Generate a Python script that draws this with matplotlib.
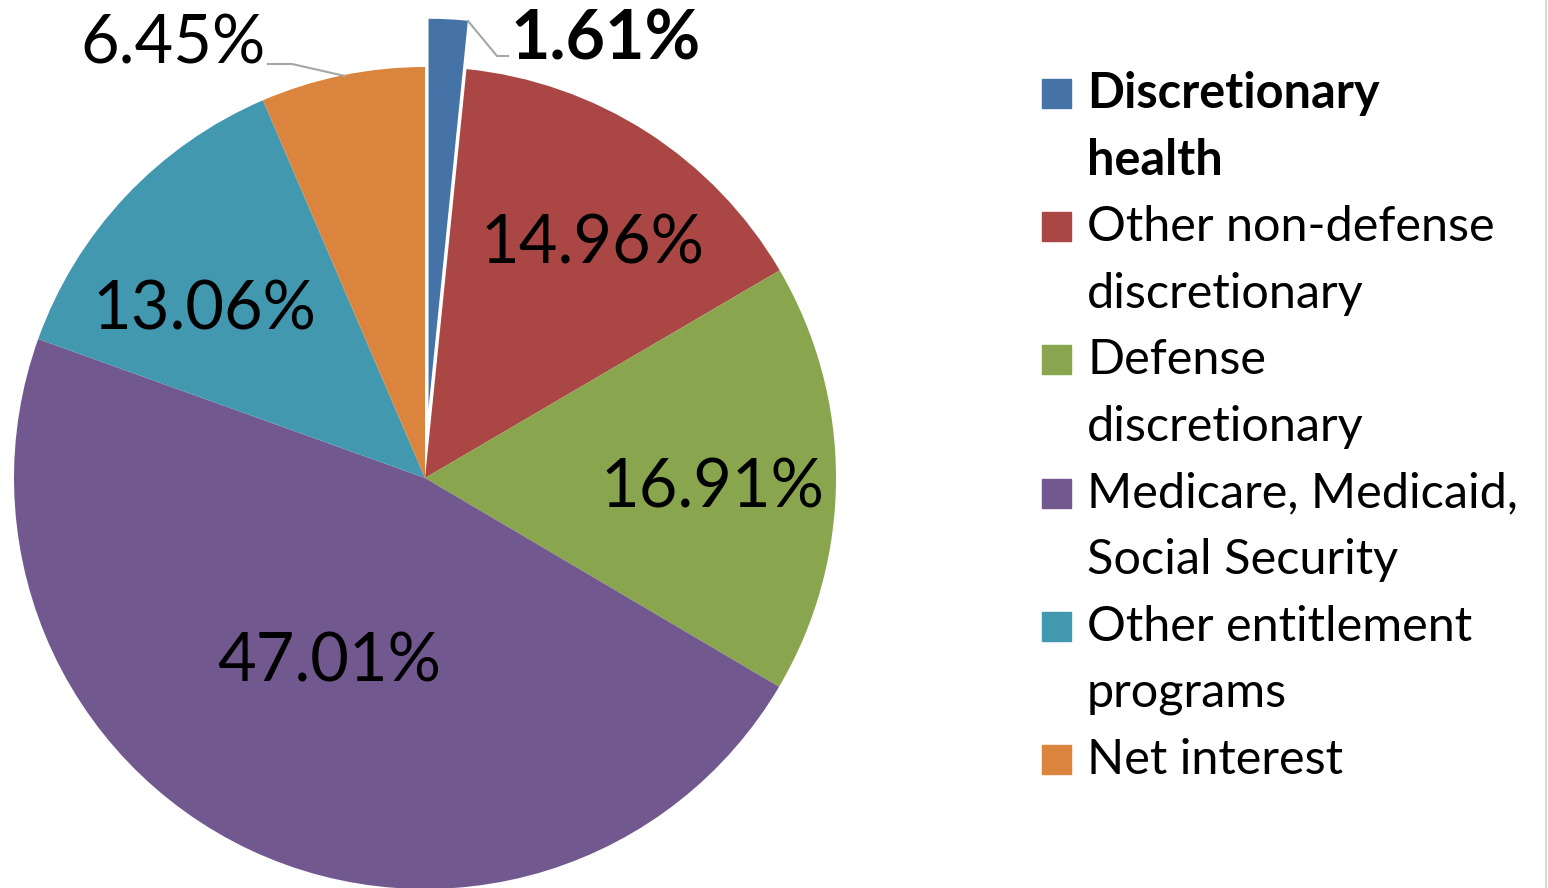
import matplotlib.pyplot as plt
from matplotlib.lines import Line2D
from matplotlib.patches import Rectangle

plt.rcParams['font.family'] = ['Lato', 'DejaVu Sans']

categories = ["Discretionary\nhealth", "Other non-defense\ndiscretionary",
              "Defense\ndiscretionary", "Medicare, Medicaid,\nSocial Security",
              "Other entitlement\nprograms", "Net interest"]
shares = [1.61, 14.96, 16.91, 47.01, 13.06, 6.45]
colors = ["#4572A7", "#AA4643", "#89A54E", "#71588F", "#4198AF", "#DB843D"]

W, H = 1548, 888
fig = plt.figure(figsize=(W / 100, H / 100), dpi=100)
ax = fig.add_axes([0, 0, 1, 1])

R = 411
cx, cy = 425, H - 478
# explode is applied in data units here (axes units = pixels)
explode = [0.12 * R, 0, 0, 0, 0, 0]
wedges, _ = ax.pie(shares, colors=colors, startangle=90, counterclock=False,
                   explode=explode, radius=R, center=(cx, cy),
                   wedgeprops=dict(linewidth=0))
wedges[0].set_edgecolor("white")
wedges[0].set_linewidth(1.5)
ax.set_xlim(0, W)
ax.set_ylim(0, H)
ax.set_aspect("equal")
ax.axis("off")

# data labels (image pixel positions)
label_pos = [(606, 40), (592, 245), (712, 488), (329, 662), (204, 310), (173, 45)]
for i, (v, (x, y)) in enumerate(zip(shares, label_pos)):
    ax.text(x, H - y, "%.2f%%" % v, ha="center", va="center",
            fontsize=49 if i == 0 else 48,
            fontweight="bold" if i == 0 else "normal", color="black")

# leader lines
ax.plot([468, 497, 508], [H - 21, H - 56, H - 56], color="#a6a6a6", lw=1.5)
ax.plot([268, 292, 345], [H - 64, H - 64, H - 76], color="#a6a6a6", lw=1.5)

# legend
y0 = 94
step = 66.6
line = 0
for i, (lab, c) in enumerate(zip(categories, colors)):
    ty = y0 + line * step
    fig.add_artist(Rectangle((1042 / W, 1 - (ty + 14) / H), 29 / W, 29 / H,
                             transform=fig.transFigure, color=c))
    for j, part in enumerate(lab.split("\n")):
        fig.text(1087 / W, 1 - (ty + j * step) / H, part, ha="left", va="center",
                 fontsize=35, fontweight="bold" if i == 0 else "normal")
    line += len(lab.split("\n"))

fig.add_artist(Line2D([1546 / W, 1546 / W], [0, 1], color="#d9d9d9", lw=1.5,
                      transform=fig.transFigure))

fig.savefig("out.png", dpi=100)
